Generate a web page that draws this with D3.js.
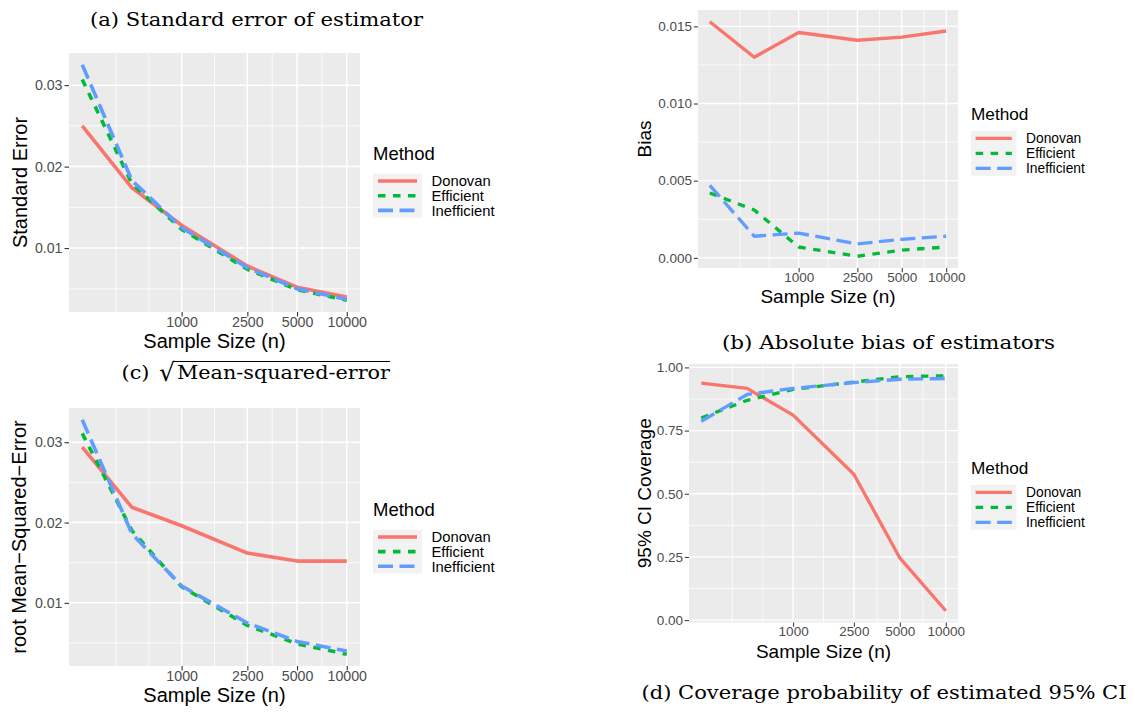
<!DOCTYPE html>
<html>
<head>
<meta charset="utf-8">
<script src="https://cdn.jsdelivr.net/npm/d3@7"></script>
<style>
  body { margin: 0; background: #fff; }
  svg { display: block; }
</style>
</head>
<body>
<div id="chart"></div>
<script>
// sample sizes (x) and methods
const sampleSizes = [250, 500, 1000, 2500, 5000, 10000];
const xTickValues = [1000, 2500, 5000, 10000];
const methods = ['Donovan', 'Efficient', 'Inefficient'];

// (a) standard error
const seDonovan     = [0.0250, 0.0174, 0.0128, 0.0078, 0.0052, 0.0040];
const seEfficient   = [0.0307, 0.0179, 0.0123, 0.0074, 0.0049, 0.0036];
const seInefficient = [0.0325, 0.0183, 0.0125, 0.0076, 0.0050, 0.0037];

// (b) absolute bias
const biasDonovan     = [0.0153, 0.0130, 0.0146, 0.0141, 0.0143, 0.0147];
const biasEfficient   = [0.0042, 0.0031, 0.0007, 0.0001, 0.0005, 0.0007];
const biasInefficient = [0.0047, 0.0014, 0.0016, 0.0009, 0.0012, 0.0014];

// (c) root mean squared error
const rmseDonovan     = [0.0294, 0.0219, 0.0196, 0.0162, 0.0152, 0.0152];
const rmseEfficient   = [0.0311, 0.0190, 0.0120, 0.0072, 0.0049, 0.0036];
const rmseInefficient = [0.0328, 0.0186, 0.0121, 0.0075, 0.0052, 0.0040];

// (d) coverage of 95% CI
const covDonovan     = [0.938, 0.917, 0.811, 0.577, 0.246, 0.037];
const covEfficient   = [0.800, 0.870, 0.913, 0.942, 0.963, 0.967];
const covInefficient = [0.787, 0.893, 0.917, 0.940, 0.953, 0.956];

// y ticks
const ticksSE   = [0.01, 0.02, 0.03];
const ticksBias = [0, 0.005, 0.010, 0.015];
const ticksCov  = [0, 0.25, 0.5, 0.75, 1];

const colors = ['#F8766D', '#00BA38', '#619CFF'];
const dashes = [null, '7.5,7.5', '15,6.5'];
const sans = "'Liberation Sans', Arial, Helvetica, sans-serif";
const serif = "'DejaVu Serif', 'Liberation Serif', serif";

const svg = d3.select('#chart').append('svg')
    .attr('width', 1135)
    .attr('height', 712);

// ggplot-like minor breaks: midpoints between majors, extended one step each side
const minorBreaks = (b, lo, hi) => {
  const n = b.length
  const ext = [b[0] - (b[1] - b[0]), ...b, b[n - 1] + (b[n - 1] - b[n - 2])]
  const out = []
  for (let i = 0; i < ext.length - 1; i++) {
    out.push(ext[i], (ext[i] + ext[i + 1]) / 2)
  }
  out.push(ext[ext.length - 1])
  return out.filter(v => v > lo && v < hi && !b.some(m => Math.abs(m - v) < 1e-9))
}

const drawPanel = (p) => {
  const g = svg.append('g')
  const s = p.s

  // x: log10 with 5% expansion
  const lx = d3.extent(sampleSizes).map(Math.log10)
  const lpad = (lx[1] - lx[0]) * 0.05
  const x = d3.scaleLog()
      .domain([Math.pow(10, lx[0] - lpad), Math.pow(10, lx[1] + lpad)])
      .range([p.x0, p.x1])

  const ext = d3.extent(p.series.flat())
  const pad = (ext[1] - ext[0]) * 0.05
  const y = d3.scaleLinear()
      .domain([ext[0] - pad, ext[1] + pad])
      .range([p.y1, p.y0])

  g.append('rect')
      .attr('x', p.x0).attr('y', p.y0)
      .attr('width', p.x1 - p.x0).attr('height', p.y1 - p.y0)
      .attr('fill', '#EBEBEB')

  // grid
  const yMinor = minorBreaks(p.yTicks, y.domain()[0], y.domain()[1])
  const xMinor = minorBreaks(xTickValues.map(Math.log10), Math.log10(x.domain()[0]), Math.log10(x.domain()[1]))
      .map(v => Math.pow(10, v))

  g.selectAll('.ymin').data(yMinor).enter().append('line')
      .attr('x1', p.x0).attr('x2', p.x1)
      .attr('y1', d => y(d)).attr('y2', d => y(d))
      .attr('stroke', '#fff').attr('stroke-width', 0.8 * s)
  g.selectAll('.xmin').data(xMinor).enter().append('line')
      .attr('y1', p.y0).attr('y2', p.y1)
      .attr('x1', d => x(d)).attr('x2', d => x(d))
      .attr('stroke', '#fff').attr('stroke-width', 0.8 * s)
  g.selectAll('.ymaj').data(p.yTicks).enter().append('line')
      .attr('x1', p.x0).attr('x2', p.x1)
      .attr('y1', d => y(d)).attr('y2', d => y(d))
      .attr('stroke', '#fff').attr('stroke-width', 1.5 * s)
  g.selectAll('.xmaj').data(xTickValues).enter().append('line')
      .attr('y1', p.y0).attr('y2', p.y1)
      .attr('x1', d => x(d)).attr('x2', d => x(d))
      .attr('stroke', '#fff').attr('stroke-width', 1.5 * s)

  // axes
  const yAxis = g.append('g')
      .attr('transform', `translate(${p.x0},0)`)
      .call(d3.axisLeft(y).tickValues(p.yTicks).tickFormat(d3.format(p.yFmt))
        .tickSize(4.5 * s).tickPadding(2 * s))
  yAxis.select('.domain').remove()
  yAxis.selectAll('line').attr('stroke', '#333').attr('stroke-width', 1.1 * s)
  yAxis.selectAll('text').attr('fill', '#4D4D4D')
      .style('font-family', sans).style('font-size', p.tickSize + 'px')

  const xAxis = g.append('g')
      .attr('transform', `translate(0,${p.y1})`)
      .call(d3.axisBottom(x).tickValues(xTickValues).tickFormat(d3.format('d'))
        .tickSize(4.5 * s).tickPadding(0))
  xAxis.select('.domain').remove()
  xAxis.selectAll('line').attr('stroke', '#333').attr('stroke-width', 1.1 * s)
  xAxis.selectAll('text').attr('fill', '#4D4D4D')
      .style('font-family', sans).style('font-size', p.tickSize + 'px')

  g.append('text')
      .attr('x', (p.x0 + p.x1) / 2).attr('y', p.y1 + p.xTitleDy)
      .attr('text-anchor', 'middle')
      .style('font-family', sans).style('font-size', p.titleSize + 'px')
      .text('Sample Size (n)')

  g.append('text')
      .attr('transform', `translate(${p.yTitleX},${(p.y0 + p.y1) / 2}) rotate(-90)`)
      .attr('text-anchor', 'middle').attr('dy', '0.35em')
      .style('font-family', sans).style('font-size', p.titleSize + 'px')
      .text(p.yTitle)

  // lines
  const line = d3.line()
      .x((d, i) => x(sampleSizes[i]))
      .y(d => y(d))
  p.series.forEach((vals, k) => {
    g.append('path')
        .attr('d', line(vals))
        .attr('fill', 'none')
        .attr('stroke', colors[k])
        .attr('stroke-width', 3.6 * s)
        .attr('stroke-dasharray', dashes[k])
        .attr('stroke-linejoin', 'round')
  })

  // legend
  const L = p.legend
  const leg = g.append('g')
  leg.append('text')
      .attr('x', L.x).attr('y', L.titleY)
      .style('font-family', sans).style('font-size', p.legTitleSize + 'px')
      .text('Method')
  methods.forEach((m, k) => {
    const cy = L.firstKey + k * L.step
    leg.append('rect')
        .attr('x', L.x).attr('y', cy - L.step / 2)
        .attr('width', L.keyW).attr('height', L.step)
        .attr('fill', '#F2F2F2')
    leg.append('line')
        .attr('x1', L.x + 5 * s).attr('x2', L.x + L.keyW - 5 * s)
        .attr('y1', cy).attr('y2', cy)
        .attr('stroke', colors[k])
        .attr('stroke-width', 3.6 * s)
        .attr('stroke-dasharray', dashes[k])
    leg.append('text')
        .attr('x', L.labelX).attr('y', cy).attr('dy', '0.36em')
        .style('font-family', sans).style('font-size', p.legSize + 'px')
        .text(m)
  })
}

const panels = [
  { x0: 69, x1: 360, y0: 53, y1: 312, s: 1, series: [seDonovan, seEfficient, seInefficient],
    yTicks: ticksSE, yFmt: '.2f', yTitle: 'Standard Error', yTitleX: 20, xTitleDy: 36,
    tickSize: 14.2, titleSize: 20, legTitleSize: 18.5, legSize: 14.8,
    legend: { x: 373, titleY: 160, firstKey: 181, step: 14.7, keyW: 49, labelX: 431.5 } },
  { x0: 698, x1: 958, y0: 10, y1: 268, s: 0.93, series: [biasDonovan, biasEfficient, biasInefficient],
    yTicks: ticksBias, yFmt: '.3f', yTitle: 'Bias', yTitleX: 644, xTitleDy: 35,
    tickSize: 13.5, titleSize: 19, legTitleSize: 17.2, legSize: 13.8,
    legend: { x: 971, titleY: 120, firstKey: 138.3, step: 15, keyW: 45.5, labelX: 1026 } },
  { x0: 69, x1: 360, y0: 408, y1: 666, s: 1, series: [rmseDonovan, rmseEfficient, rmseInefficient],
    yTicks: ticksSE, yFmt: '.2f', yTitle: 'root Mean\u2212Squared\u2212Error', yTitleX: 19, xTitleDy: 36,
    tickSize: 14.2, titleSize: 20, legTitleSize: 18.5, legSize: 14.8,
    legend: { x: 373, titleY: 516, firstKey: 537, step: 14.6, keyW: 49, labelX: 431.5 } },
  { x0: 689, x1: 958, y0: 364, y1: 622.5, s: 0.93, series: [covDonovan, covEfficient, covInefficient],
    yTicks: ticksCov, yFmt: '.2f', yTitle: '95% CI Coverage', yTitleX: 644, xTitleDy: 35,
    tickSize: 13.5, titleSize: 19, legTitleSize: 17.2, legSize: 13.8,
    legend: { x: 971, titleY: 474, firstKey: 492.3, step: 15, keyW: 45.5, labelX: 1026 } }
]

panels.forEach(drawPanel)

// captions (LaTeX subfigure style)
const caption = (txt, x, y, len) => {
  svg.append('text')
      .attr('x', x).attr('y', y)
      .attr('textLength', len).attr('lengthAdjust', 'spacingAndGlyphs')
      .style('font-family', serif).style('font-size', '19px')
      .text(txt)
}
caption('(a) Standard error of estimator', 90, 25.5, 333)
caption('(b) Absolute bias of estimators', 722, 349, 333)
caption('(d) Coverage probability of estimated 95% CI', 641.5, 699, 485)

// (c) with square root sign
caption('(c)', 121.5, 378.5, 28)
svg.append('text')
    .attr('x', 159).attr('y', 381)
    .style('font-family', serif).style('font-size', '25px')
    .text('\u221A')
caption('Mean-squared-error', 177, 378.5, 213)
svg.append('line')
    .attr('x1', 174).attr('x2', 390)
    .attr('y1', 361.5).attr('y2', 361.5)
    .attr('stroke', '#000').attr('stroke-width', 1)
</script>
</body>
</html>
